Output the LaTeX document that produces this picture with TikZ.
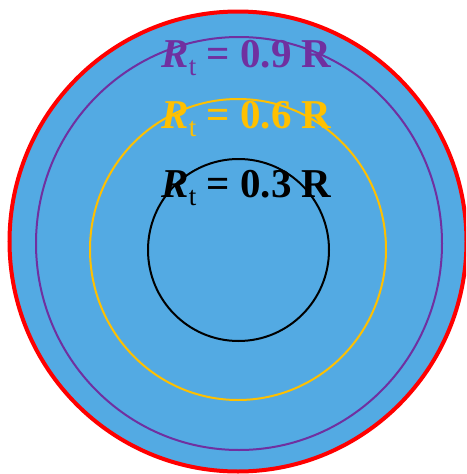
\documentclass[tikz,border=0pt]{standalone}
\usepackage{fontspec}
\setmainfont{Liberation Serif}
\definecolor{fillblue}{HTML}{53AAE3}
\definecolor{rtpurple}{HTML}{7030A0}
\definecolor{rtyellow}{HTML}{FFC000}
\tikzset{
  ring/.style={line width=2pt},
  rlabel/.style={anchor=base, font=\fontsize{41}{41}\selectfont\bfseries, inner sep=0pt}
}
\newcommand{\rtlabel}[1]{{\itshape R}\raisebox{-8pt}{\fontsize{27}{27}\selectfont\mdseries t} = #1 R}
\begin{document}
\begin{tikzpicture}[x=1pt,y=-1pt]
\useasboundingbox (0,0) rectangle (466,474);
\clip (0,0) rectangle (466,474);
\fill[white] (0,0) rectangle (466,474);
\draw[red, fill=fillblue, line width=4pt] (238,241.5) ellipse [x radius=228.5, y radius=230];
\draw[ring, rtpurple] (239,243.5) ellipse [x radius=203, y radius=206.5];
\draw[ring, rtyellow] (238,249.5) ellipse [x radius=148, y radius=150.5];
\draw[ring, black] (238.5,250) ellipse [x radius=90.5, y radius=91];
\node[rlabel, text=rtpurple] (l9) at (246.5,67) {\rtlabel{0.9}};
\node[rlabel, text=rtyellow] (l6) at (246.5,128) {\rtlabel{0.6}};
\node[rlabel, text=black] (l3) at (246.5,197) {\rtlabel{0.3}};
\end{tikzpicture}
\end{document}
